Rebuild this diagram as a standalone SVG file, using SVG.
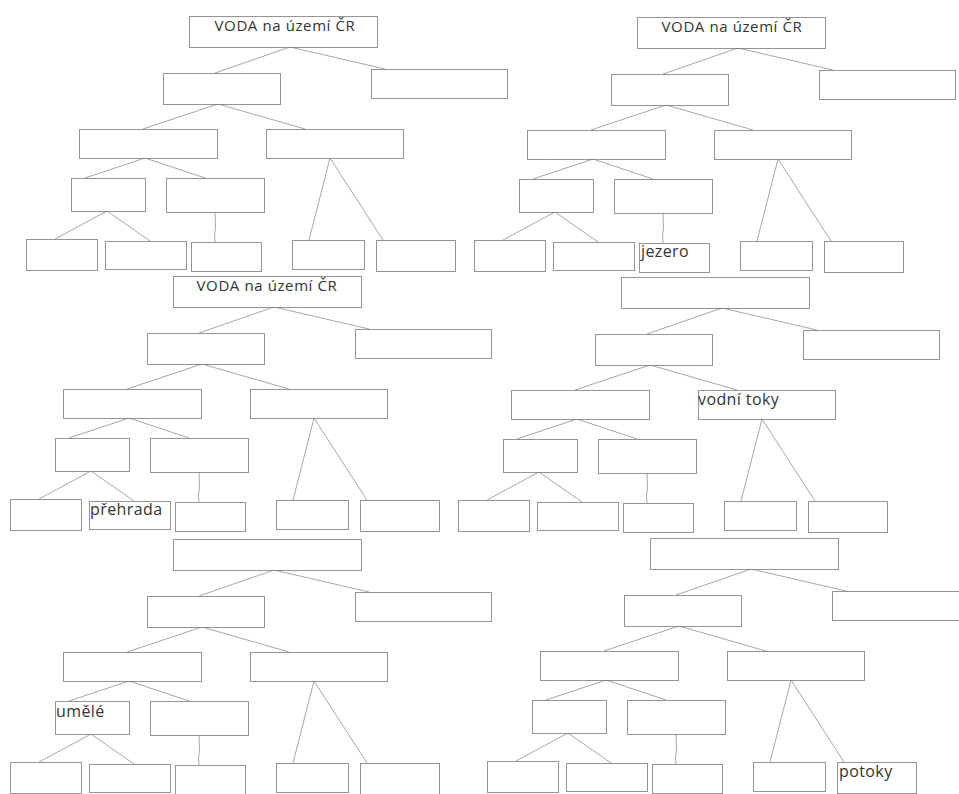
<svg xmlns="http://www.w3.org/2000/svg" width="959" height="794" viewBox="0 0 959 794">
<style>
  .box { fill: #ffffff; stroke: #2a2a2a; stroke-width: 1; stroke-dasharray: 1 1; }
  .link { fill: none; stroke: #a8a8a8; stroke-width: 1; }
  .title { font-family: "Open Sans", "Noto Sans", sans-serif; font-size: 15px; letter-spacing: 0.6px; fill: #333333; text-anchor: middle; }
  .lbl { font-family: "Open Sans", "Noto Sans", sans-serif; font-size: 16px; letter-spacing: 0.4px; fill: #333333; }
</style>
<defs>
  <path id="links" class="link" d="M290,47L215,73 M290,47L385,69 M218,104L143,129 M218,104L305,129 M145,158L85,178 M145,158L205,178 M330,158L309,240 M330,158L383,240 M107,211L55,239 M107,211L150,241 M215,212L215.5,227L214.5,235L215,242"/>
</defs>
<rect width="959" height="794" fill="#ffffff"/>
<g id="connectors">
  <use href="#links" transform="translate(0,0)"/>
  <use href="#links" transform="translate(448,1)"/>
  <use href="#links" transform="translate(-16,260)"/>
  <use href="#links" transform="translate(432,261)"/>
  <use href="#links" transform="translate(-16,523)"/>
  <use href="#links" transform="translate(461,522)"/>
</g>

<g id="tree1" transform="translate(0,0)">
  <g id="t1-root"><rect class="box" x="189.5" y="16.5" width="188" height="31"/><text class="title" x="285" y="30.5">VODA na území ČR</text></g>
  <g id="t1-l1a"><rect class="box" x="163.5" y="73.5" width="117" height="31"/></g>
  <g id="t1-l1b"><rect class="box" x="371.5" y="69.5" width="136" height="29"/></g>
  <g id="t1-l2a"><rect class="box" x="79.5" y="129.5" width="138" height="29"/></g>
  <g id="t1-l2b"><rect class="box" x="266.5" y="129.5" width="137" height="29"/></g>
  <g id="t1-l3a"><rect class="box" x="71.5" y="178.5" width="74" height="33"/></g>
  <g id="t1-l3b"><rect class="box" x="166.5" y="178.5" width="98" height="34"/></g>
  <g id="t1-l4a"><rect class="box" x="26.5" y="239.5" width="71" height="31"/></g>
  <g id="t1-l4b"><rect class="box" x="105.5" y="241.5" width="81" height="28"/></g>
  <g id="t1-l4c"><rect class="box" x="191.5" y="242.5" width="70" height="29"/></g>
  <g id="t1-l4d"><rect class="box" x="292.5" y="240.5" width="72" height="29"/></g>
  <g id="t1-l4e"><rect class="box" x="376.5" y="240.5" width="79" height="31"/></g>
</g>

<g id="tree2" transform="translate(448,1)">
  <g id="t2-root"><rect class="box" x="189.5" y="16.5" width="188" height="31"/><text class="title" x="284" y="30.5">VODA na území ČR</text></g>
  <g id="t2-l1a"><rect class="box" x="163.5" y="73.5" width="117" height="31"/></g>
  <g id="t2-l1b"><rect class="box" x="371.5" y="69.5" width="136" height="29"/></g>
  <g id="t2-l2a"><rect class="box" x="79.5" y="129.5" width="138" height="29"/></g>
  <g id="t2-l2b"><rect class="box" x="266.5" y="129.5" width="137" height="29"/></g>
  <g id="t2-l3a"><rect class="box" x="71.5" y="178.5" width="74" height="33"/></g>
  <g id="t2-l3b"><rect class="box" x="166.5" y="178.5" width="98" height="34"/></g>
  <g id="t2-l4a"><rect class="box" x="26.5" y="239.5" width="71" height="31"/></g>
  <g id="t2-l4b"><rect class="box" x="105.5" y="241.5" width="81" height="28"/></g>
  <g id="t2-l4c"><rect class="box" x="191.5" y="242.5" width="70" height="29"/><text class="lbl" x="193" y="256">jezero</text></g>
  <g id="t2-l4d"><rect class="box" x="292.5" y="240.5" width="72" height="29"/></g>
  <g id="t2-l4e"><rect class="box" x="376.5" y="240.5" width="79" height="31"/></g>
</g>

<g id="tree3" transform="translate(-16,260)">
  <g id="t3-root"><rect class="box" x="189.5" y="16.5" width="188" height="31"/><text class="title" x="283" y="31">VODA na území ČR</text></g>
  <g id="t3-l1a"><rect class="box" x="163.5" y="73.5" width="117" height="31"/></g>
  <g id="t3-l1b"><rect class="box" x="371.5" y="69.5" width="136" height="29"/></g>
  <g id="t3-l2a"><rect class="box" x="79.5" y="129.5" width="138" height="29"/></g>
  <g id="t3-l2b"><rect class="box" x="266.5" y="129.5" width="137" height="29"/></g>
  <g id="t3-l3a"><rect class="box" x="71.5" y="178.5" width="74" height="33"/></g>
  <g id="t3-l3b"><rect class="box" x="166.5" y="178.5" width="98" height="34"/></g>
  <g id="t3-l4a"><rect class="box" x="26.5" y="239.5" width="71" height="31"/></g>
  <g id="t3-l4b"><rect class="box" x="105.5" y="241.5" width="81" height="28"/><text class="lbl" x="106" y="255">přehrada</text></g>
  <g id="t3-l4c"><rect class="box" x="191.5" y="242.5" width="70" height="29"/></g>
  <g id="t3-l4d"><rect class="box" x="292.5" y="240.5" width="72" height="29"/></g>
  <g id="t3-l4e"><rect class="box" x="376.5" y="240.5" width="79" height="31"/></g>
</g>

<g id="tree4" transform="translate(432,261)">
  <g id="t4-root"><rect class="box" x="189.5" y="16.5" width="188" height="31"/></g>
  <g id="t4-l1a"><rect class="box" x="163.5" y="73.5" width="117" height="31"/></g>
  <g id="t4-l1b"><rect class="box" x="371.5" y="69.5" width="136" height="29"/></g>
  <g id="t4-l2a"><rect class="box" x="79.5" y="129.5" width="138" height="29"/></g>
  <g id="t4-l2b"><rect class="box" x="266.5" y="129.5" width="137" height="29"/><text class="lbl" x="266" y="144">vodní toky</text></g>
  <g id="t4-l3a"><rect class="box" x="71.5" y="178.5" width="74" height="33"/></g>
  <g id="t4-l3b"><rect class="box" x="166.5" y="178.5" width="98" height="34"/></g>
  <g id="t4-l4a"><rect class="box" x="26.5" y="239.5" width="71" height="31"/></g>
  <g id="t4-l4b"><rect class="box" x="105.5" y="241.5" width="81" height="28"/></g>
  <g id="t4-l4c"><rect class="box" x="191.5" y="242.5" width="70" height="29"/></g>
  <g id="t4-l4d"><rect class="box" x="292.5" y="240.5" width="72" height="29"/></g>
  <g id="t4-l4e"><rect class="box" x="376.5" y="240.5" width="79" height="31"/></g>
</g>

<g id="tree5" transform="translate(-16,523)">
  <g id="t5-root"><rect class="box" x="189.5" y="16.5" width="188" height="31"/></g>
  <g id="t5-l1a"><rect class="box" x="163.5" y="73.5" width="117" height="31"/></g>
  <g id="t5-l1b"><rect class="box" x="371.5" y="69.5" width="136" height="29"/></g>
  <g id="t5-l2a"><rect class="box" x="79.5" y="129.5" width="138" height="29"/></g>
  <g id="t5-l2b"><rect class="box" x="266.5" y="129.5" width="137" height="29"/></g>
  <g id="t5-l3a"><rect class="box" x="71.5" y="178.5" width="74" height="33"/><text class="lbl" x="72" y="194">umělé</text></g>
  <g id="t5-l3b"><rect class="box" x="166.5" y="178.5" width="98" height="34"/></g>
  <g id="t5-l4a"><rect class="box" x="26.5" y="239.5" width="71" height="31"/></g>
  <g id="t5-l4b"><rect class="box" x="105.5" y="241.5" width="81" height="28"/></g>
  <g id="t5-l4c"><rect class="box" x="191.5" y="242.5" width="70" height="29"/></g>
  <g id="t5-l4d"><rect class="box" x="292.5" y="240.5" width="72" height="29"/></g>
  <g id="t5-l4e"><rect class="box" x="376.5" y="240.5" width="79" height="31"/></g>
</g>

<g id="tree6" transform="translate(461,522)">
  <g id="t6-root"><rect class="box" x="189.5" y="16.5" width="188" height="31"/></g>
  <g id="t6-l1a"><rect class="box" x="163.5" y="73.5" width="117" height="31"/></g>
  <g id="t6-l1b"><rect class="box" x="371.5" y="69.5" width="136" height="29"/></g>
  <g id="t6-l2a"><rect class="box" x="79.5" y="129.5" width="138" height="29"/></g>
  <g id="t6-l2b"><rect class="box" x="266.5" y="129.5" width="137" height="29"/></g>
  <g id="t6-l3a"><rect class="box" x="71.5" y="178.5" width="74" height="33"/></g>
  <g id="t6-l3b"><rect class="box" x="166.5" y="178.5" width="98" height="34"/></g>
  <g id="t6-l4a"><rect class="box" x="26.5" y="239.5" width="71" height="31"/></g>
  <g id="t6-l4b"><rect class="box" x="105.5" y="241.5" width="81" height="28"/></g>
  <g id="t6-l4c"><rect class="box" x="191.5" y="242.5" width="70" height="29"/></g>
  <g id="t6-l4d"><rect class="box" x="292.5" y="240.5" width="72" height="29"/></g>
  <g id="t6-l4e"><rect class="box" x="376.5" y="240.5" width="79" height="31"/><text class="lbl" x="378" y="255">potoky</text></g>
</g>
</svg>
